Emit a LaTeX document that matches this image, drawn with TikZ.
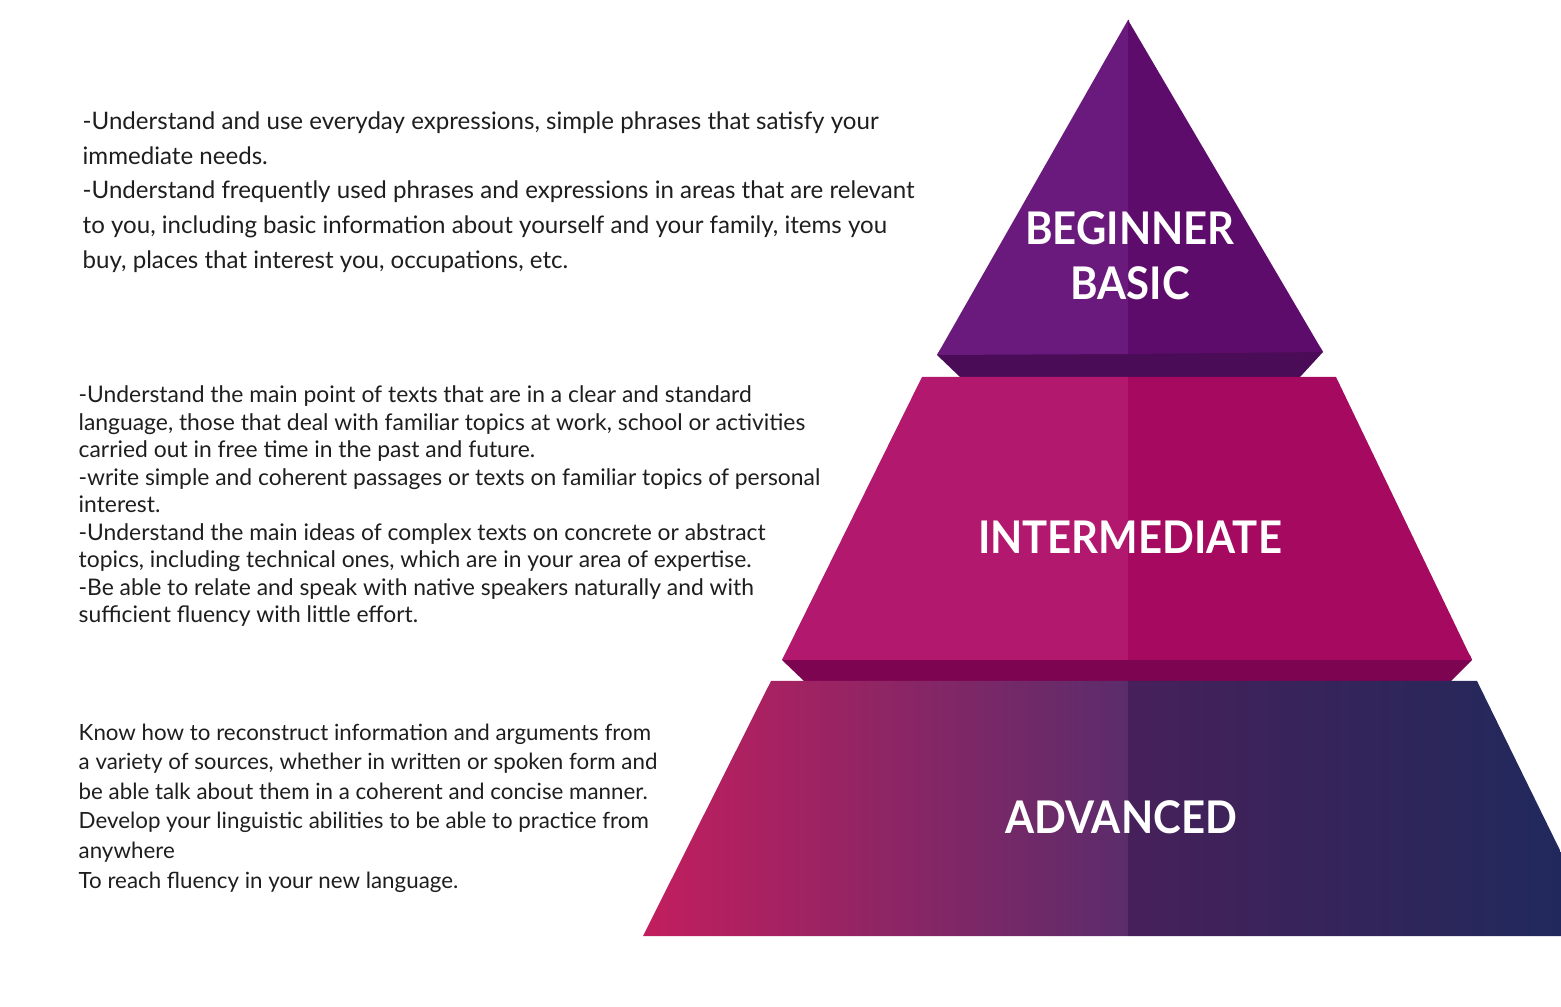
\documentclass[tikz,border=0pt]{standalone}
\usepackage{fontspec}
\setmainfont{Lato}
\newfontfamily\levelfont[FakeStretch=0.93]{Lato}

\definecolor{topl}{HTML}{6A1A7D}
\definecolor{topr}{HTML}{5E0C6C}
\definecolor{topb}{HTML}{4A0C57}
\definecolor{midl}{HTML}{B3186F}
\definecolor{midr}{HTML}{A60A60}
\definecolor{midb}{HTML}{7C0450}
\definecolor{advla}{HTML}{C21E5E}
\definecolor{advlb}{HTML}{5B2C6B}
\definecolor{advra}{HTML}{47205A}
\definecolor{advrb}{HTML}{1D2A5C}
\definecolor{textgray}{HTML}{1E1E1E}

\begin{document}
\begin{tikzpicture}[x=0.01cm,y=-0.01cm,
  level/.style={text=white,font=\levelfont\bfseries\fontsize{12.8}{15.6}\selectfont,align=center,inner sep=0pt},
  desc/.style={anchor=north west,align=left,text=textgray,inner sep=0pt}]

\useasboundingbox (0,0) rectangle (1561,1007);
\clip (0,0) rectangle (1561,1007);

% Beginner
\fill[topb] (940,350) -- (1320,347) -- (1323,352) -- (1300,377) -- (960,377) -- (937,355) -- cycle;
\fill[topl] (1128,20) -- (937,355) -- (1129,354) -- (1129,20) -- cycle;
\fill[topr] (1128,20) -- (1128,354) -- (1323,352) -- cycle;

% Intermediate
\fill[midb] (785,655) -- (1470,655) -- (1472,660) -- (1450,682) -- (805,682) -- (782,660) -- cycle;
\fill[midl] (922,377) -- (1129,377) -- (1129,660) -- (782,660) -- cycle;
\fill[midr] (1128,377) -- (1336,377) -- (1472,660) -- (1128,660) -- cycle;

% Advanced
\shade[left color=advla,right color=advlb]
  (771,681) -- (1128,681) -- (1128,936) -- (643,936) -- cycle;
\shade[left color=advra,right color=advrb]
  (1128,681) -- (1477,681) -- (1602,936) -- (1128,936) -- cycle;

\node[level] (beginner) at (1130,256) {BEGINNER\\BASIC};
\node[level] (intermediate) at (1130,537) {INTERMEDIATE};
\node[level] (advanced) at (1121,817) {ADVANCED};

% Descriptions
\node[desc,font=\fontsize{6.85}{9.87}\selectfont] (basictext) at (82,111)
{-Understand and use everyday expressions, simple phrases that satisfy your\\
immediate needs.\\
-Understand frequently used phrases and expressions in areas that are relevant\\
to you, including basic information about yourself and your family, items you\\
buy, places that interest you, occupations, etc.};

\node[desc,font=\fontsize{6.5}{7.82}\selectfont] (midtext) at (78,385)
{-Understand the main point of texts that are in a clear and standard\\
language, those that deal with familiar topics at work, school or activities\\
carried out in free time in the past and future.\\
-write simple and coherent passages or texts on familiar topics of personal\\
interest.\\
-Understand the main ideas of complex texts on concrete or abstract\\
topics, including technical ones, which are in your area of expertise.\\
-Be able to relate and speak with native speakers naturally and with\\
sufficient fluency with little effort.};

\node[desc,font=\fontsize{6.35}{8.42}\selectfont] (advtext) at (78,723)
{Know how to reconstruct information and arguments from\\
a variety of sources, whether in written or spoken form and\\
be able talk about them in a coherent and concise manner.\\
Develop your linguistic abilities to be able to practice from\\
anywhere\\
To reach fluency in your new language.};

\end{tikzpicture}
\end{document}
